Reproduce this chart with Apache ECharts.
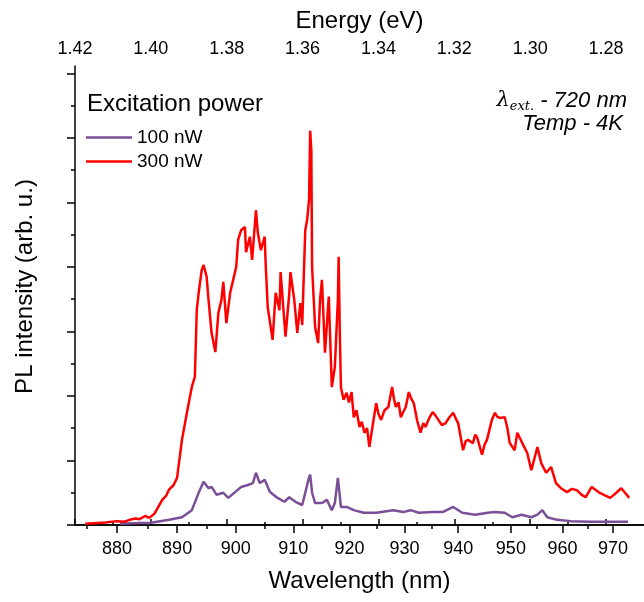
<!DOCTYPE html>
<html><head><meta charset="utf-8">
<script src="https://cdn.jsdelivr.net/npm/echarts@6.0.0/dist/echarts.min.js"></script>
<style>html,body{margin:0;padding:0;background:#fff}#c{width:644px;height:602px}</style>
</head><body><div id="c"></div><script>
// Photon energy (eV) -> wavelength conversion constant
const HC = 1239.84;

// Top axis (energy) ticks
const energyTicksMajor = [1.42, 1.40, 1.38, 1.36, 1.34, 1.32, 1.30, 1.28];
const energyTicksMinor = [1.41, 1.39, 1.37, 1.35, 1.33, 1.31, 1.29];
// Bottom axis (wavelength, nm) ticks
const wavelengthTicksMajor = [880, 890, 900, 910, 920, 930, 940, 950, 960, 970];
const wavelengthTicksMinor = [875, 885, 895, 905, 915, 925, 935, 945, 955, 965];
// Intensity ticks (no labels)
const intensityTicksMajor = [0, 1, 2, 3, 4, 5, 6, 7];
const intensityTicksMinor = [0.5, 1.5, 2.5, 3.5, 4.5, 5.5, 6.5];

// 300 nW spectrum: energy (eV) and intensity (arb. u.)
const energy300 = [1.4173,1.4120,1.4090,1.4070,1.4056,1.4040,1.4030,1.4015,1.4004,1.3990,1.3970,1.3960,1.3952,1.3940,1.3931,1.3918,1.3905,1.3892,1.3884,1.3879,1.3874,1.3866,1.3861,1.3853,1.3848,1.3840,1.3830,1.3822,1.3814,1.3809,1.3801,1.3791,1.3783,1.3775,1.3770,1.3762,1.3752,1.3749,1.3739,1.3733,1.3723,1.3718,1.3710,1.3700,1.3697,1.3692,1.3679,1.3671,1.3661,1.3658,1.3645,1.3635,1.3632,1.3622,1.3614,1.3606,1.3601,1.3593,1.3588,1.3583,1.3580,1.3577,1.3575,1.3567,1.3559,1.3554,1.3549,1.3541,1.3531,1.3523,1.3515,1.3507,1.3505,1.3502,1.3499,1.3492,1.3484,1.3478,1.3471,1.3465,1.3458,1.3450,1.3444,1.3437,1.3430,1.3424,1.3415,1.3406,1.3400,1.3393,1.3384,1.3374,1.3364,1.3359,1.3354,1.3347,1.3341,1.3334,1.3328,1.3320,1.3313,1.3307,1.3298,1.3289,1.3282,1.3276,1.3266,1.3257,1.3250,1.3242,1.3233,1.3223,1.3213,1.3203,1.3196,1.3190,1.3177,1.3170,1.3164,1.3151,1.3145,1.3140,1.3127,1.3120,1.3114,1.3101,1.3093,1.3087,1.3080,1.3067,1.3060,1.3054,1.3041,1.3034,1.3021,1.3008,1.2997,1.2988,1.2981,1.2971,1.2958,1.2945,1.2932,1.2919,1.2903,1.2890,1.2877,1.2865,1.2854,1.2838,1.2820,1.2807,1.2789,1.2773,1.2760,1.2750,1.2739];
const intensity300 = [0.02,0.04,0.06,0.05,0.08,0.10,0.09,0.14,0.11,0.18,0.39,0.45,0.55,0.62,0.73,1.32,1.74,2.14,2.30,3.33,3.60,3.95,4.03,3.85,3.49,2.98,2.68,3.29,3.49,3.77,3.13,3.60,3.80,4.00,4.42,4.57,4.62,4.23,4.47,4.11,4.88,4.53,4.26,4.47,4.00,3.38,2.87,3.60,3.33,3.92,2.92,3.60,3.92,3.49,2.98,3.44,3.10,4.57,4.73,5.04,6.11,5.81,4.00,3.07,2.82,3.49,3.80,2.67,3.54,2.14,2.45,3.49,4.16,3.02,2.14,1.94,2.05,1.90,2.06,1.67,1.78,1.52,1.60,1.43,1.50,1.21,1.55,1.89,1.72,1.63,1.78,1.83,2.14,1.95,1.83,1.90,1.67,1.76,1.83,2.06,1.95,1.89,1.62,1.43,1.58,1.52,1.66,1.75,1.70,1.63,1.55,1.58,1.67,1.74,1.65,1.58,1.16,1.30,1.32,1.27,1.40,1.36,1.09,1.25,1.32,1.63,1.74,1.68,1.66,1.67,1.50,1.27,1.16,1.43,1.27,1.12,0.85,1.05,1.21,0.96,0.81,0.90,0.65,0.57,0.51,0.56,0.54,0.47,0.43,0.59,0.51,0.47,0.42,0.50,0.57,0.50,0.42];

// 100 nW spectrum
const energy100 = [1.4082,1.4030,1.4004,1.3952,1.3918,1.3892,1.3874,1.3861,1.3848,1.3840,1.3827,1.3809,1.3796,1.3778,1.3762,1.3744,1.3731,1.3723,1.3713,1.3700,1.3686,1.3666,1.3648,1.3635,1.3619,1.3601,1.3593,1.3583,1.3580,1.3575,1.3567,1.3549,1.3536,1.3523,1.3515,1.3507,1.3505,1.3499,1.3484,1.3465,1.3439,1.3406,1.3361,1.3335,1.3315,1.3294,1.3257,1.3231,1.3203,1.3179,1.3145,1.3112,1.3093,1.3067,1.3047,1.3023,1.2997,1.2981,1.2968,1.2955,1.2929,1.2893,1.2841,1.2799,1.2742];
const intensity100 = [0.02,0.03,0.03,0.08,0.12,0.23,0.50,0.67,0.57,0.59,0.47,0.50,0.42,0.51,0.59,0.62,0.65,0.81,0.65,0.70,0.51,0.42,0.36,0.43,0.36,0.31,0.50,0.74,0.78,0.50,0.34,0.34,0.39,0.23,0.34,0.73,0.76,0.28,0.28,0.23,0.19,0.19,0.23,0.20,0.23,0.19,0.20,0.20,0.28,0.19,0.16,0.19,0.20,0.19,0.12,0.16,0.12,0.16,0.23,0.12,0.08,0.06,0.05,0.05,0.05];

const FONT = 'Liberation Sans';
const X_MIN = 1.27, X_MAX = 1.42;
const Y_MAX = 7.116;

function zip(a, b) { return a.map((v, i) => [v, b[i]]); }

const baseX = {
  type: 'value', min: X_MIN, max: X_MAX, inverse: true,
  splitLine: { show: false }
};
const titleStyle = { fontFamily: FONT, fontSize: 24, color: '#000' };
const chart = echarts.init(document.getElementById('c'), null, { renderer: 'canvas' });
chart.setOption({
  animation: false,
  backgroundColor: '#fff',
  grid: { left: 75, right: -7, top: 66, bottom: 77, containLabel: false },
  title: {
    text: 'Excitation power', left: 87, top: 92, padding: 0,
    textStyle: { fontFamily: FONT, fontSize: 24, fontWeight: 'normal', color: '#000' }
  },
  legend: {
    orient: 'vertical', left: 86, top: 128, padding: 0,
    icon: 'rect', itemWidth: 46, itemHeight: 2.5, itemGap: 5,
    data: ['100 nW', '300 nW'],
    textStyle: { fontFamily: FONT, fontSize: 19, color: '#000', padding: [0, 0, 0, 0] }
  },
  xAxis: [
    Object.assign({}, baseX, {
      position: 'top',
      name: 'Energy (eV)', nameLocation: 'middle', nameGap: 33,
      nameTextStyle: titleStyle,
      axisLine: { show: true, lineStyle: { color: '#000', width: 1.5 } },
      axisTick: { show: true, inside: false, length: 6, lineStyle: { color: '#000', width: 1.5 }, customValues: energyTicksMajor },
      axisLabel: { show: true, fontFamily: FONT, fontSize: 18, color: '#000', margin: 8,
        customValues: energyTicksMajor, formatter: v => v.toFixed(2) }
    }),
    Object.assign({}, baseX, {
      position: 'top',
      axisLine: { show: false },
      axisTick: { show: true, inside: false, length: 3, lineStyle: { color: '#000', width: 1.5 }, customValues: energyTicksMinor },
      axisLabel: { show: false }
    }),
    Object.assign({}, baseX, {
      position: 'bottom',
      name: 'Wavelength (nm)', nameLocation: 'middle', nameGap: 44,
      nameTextStyle: titleStyle,
      axisLine: { show: true, lineStyle: { color: '#000', width: 1.5 } },
      axisTick: { show: true, inside: false, length: 8, lineStyle: { color: '#000', width: 1.5 },
        customValues: wavelengthTicksMajor.map(w => HC / w) },
      axisLabel: { show: true, fontFamily: FONT, fontSize: 18, color: '#000', margin: 15,
        customValues: wavelengthTicksMajor.map(w => HC / w), formatter: v => String(Math.round(HC / v)) }
    }),
    Object.assign({}, baseX, {
      position: 'bottom',
      axisLine: { show: false },
      axisTick: { show: true, inside: false, length: 4, lineStyle: { color: '#000', width: 1.5 },
        customValues: wavelengthTicksMinor.map(w => HC / w) },
      axisLabel: { show: false }
    })
  ],
  yAxis: [
    {
      type: 'value', min: 0, max: Y_MAX, position: 'left',
      name: 'PL intensity (arb. u.)', nameLocation: 'middle', nameGap: 38,
      nameTextStyle: Object.assign({}, titleStyle, { padding: [0, 0, 0, 18] }),
      splitLine: { show: false },
      axisLine: { show: true, lineStyle: { color: '#000', width: 1.5 } },
      axisTick: { show: true, inside: false, length: 8, lineStyle: { color: '#000', width: 1.5 }, customValues: intensityTicksMajor },
      axisLabel: { show: false }
    },
    {
      type: 'value', min: 0, max: Y_MAX, position: 'left',
      splitLine: { show: false },
      axisLine: { show: false },
      axisTick: { show: true, inside: false, length: 4, lineStyle: { color: '#000', width: 1.5 }, customValues: intensityTicksMinor },
      axisLabel: { show: false }
    }
  ],
  graphic: [
    {
      type: 'text', right: 17, top: 90,
      style: {
        text: '{l|λ}{s|ext.}{n| - 720 nm}',
        rich: {
          l: { fontFamily: 'DejaVu Serif', fontStyle: 'italic', fontSize: 21, fill: '#000', lineHeight: 24, verticalAlign: 'middle' },
          s: { fontFamily: 'DejaVu Serif', fontStyle: 'italic', fontSize: 13, fill: '#000', lineHeight: 24, verticalAlign: 'bottom' },
          n: { fontFamily: FONT, fontStyle: 'italic', fontSize: 22, fill: '#000', lineHeight: 24, verticalAlign: 'middle' }
        }
      }
    },
    {
      type: 'text', right: 21, top: 113,
      style: { text: 'Temp - 4K', fontFamily: FONT, fontStyle: 'italic', fontSize: 22, fill: '#000' }
    }
  ],
  series: [
    { name: '100 nW', type: 'line', xAxisIndex: 0, yAxisIndex: 0, data: zip(energy100, intensity100),
      showSymbol: false, symbol: 'none', lineStyle: { color: '#7b4f98', width: 2.5 }, itemStyle: { color: '#7b4f98' } },
    { name: '300 nW', type: 'line', xAxisIndex: 0, yAxisIndex: 0, data: zip(energy300, intensity300),
      showSymbol: false, symbol: 'none', lineStyle: { color: '#ff0000', width: 2.5 }, itemStyle: { color: '#ff0000' } }
  ]
});
</script></body></html>
